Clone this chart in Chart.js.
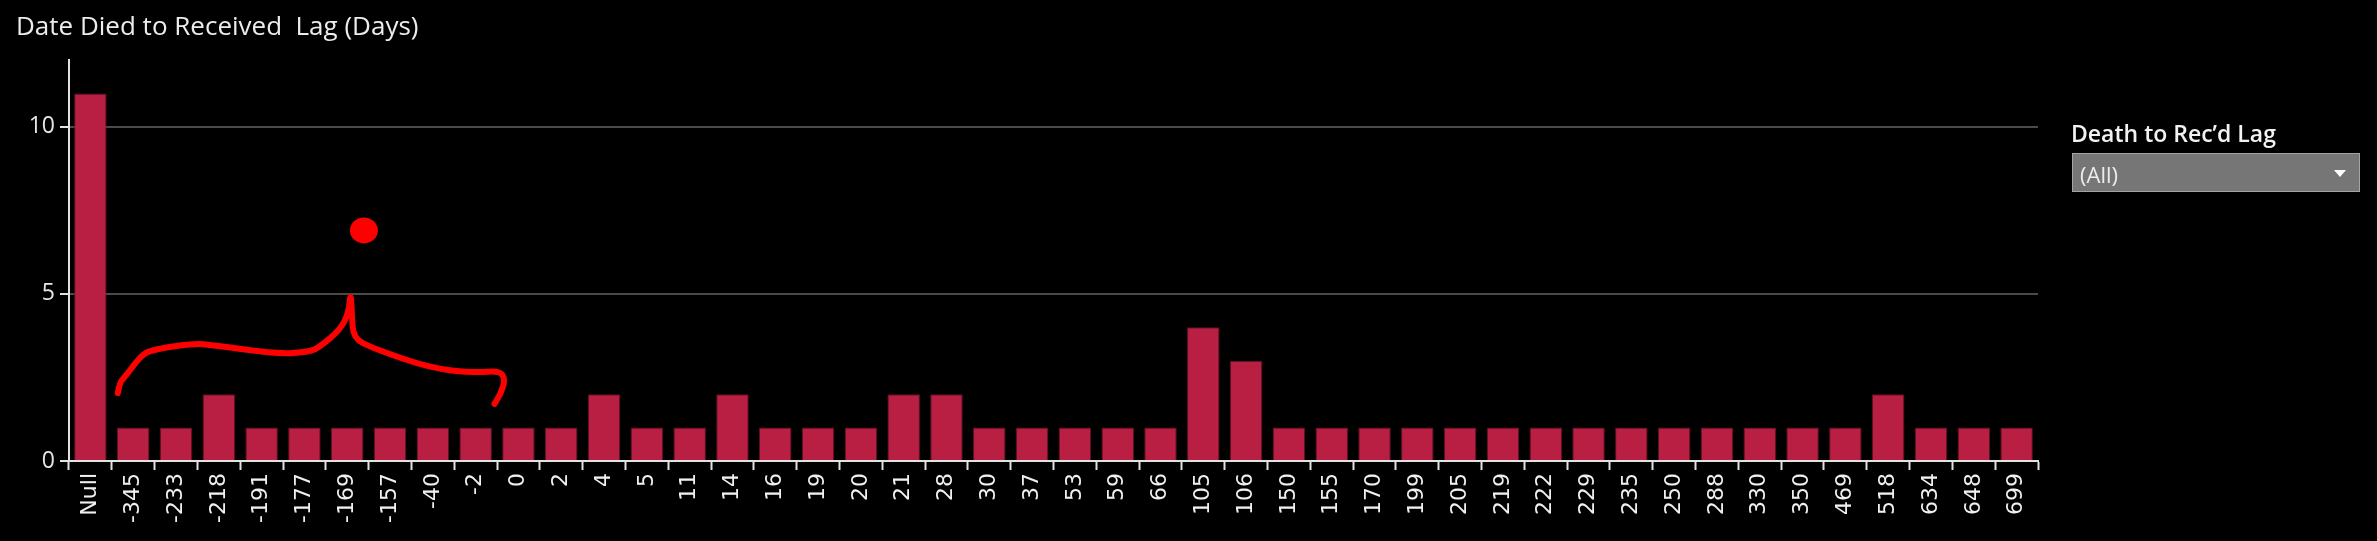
<!DOCTYPE html>
<html>
<head>
<meta charset="utf-8">
<script src="https://cdn.jsdelivr.net/npm/chart.js@4.4.0/dist/chart.umd.min.js"></script>
<style>
  html, body { margin: 0; padding: 0; background: #000; }
  #wrap { position: relative; width: 2377px; height: 541px; background: #000; overflow: hidden; }
  #chart { position: absolute; left: 0; top: 0; }
  #title {
    position: absolute; left: 16px; top: 10px;
    font: 26px "Open Sans", Lato, sans-serif; line-height: 30px;
    color: #ececec; white-space: pre;
  }
  #filterLabel {
    position: absolute; left: 2071px; top: 118px;
    font: 600 23px "Open Sans", Lato, sans-serif; line-height: 30px;
    color: #f2f2f2; white-space: pre;
  }
  #filterBox {
    position: absolute; left: 2072px; top: 153px; width: 286px; height: 37px;
    background: #767676; border: 1px solid #a3a3a3;
  }
  #filterBox span {
    position: absolute; left: 7px; top: 5px;
    font: 22px "Open Sans", Lato, sans-serif; line-height: 30px; color: #ececec;
  }
  #filterBox i {
    position: absolute; right: 13px; top: 16px; width: 0; height: 0;
    border-left: 6px solid transparent; border-right: 6px solid transparent;
    border-top: 7px solid #fff;
  }
</style>
</head>
<body>
<div id="wrap">
  <canvas id="chart" width="2377" height="541"></canvas>
  <div id="title">Date Died to Received  Lag (Days)</div>
  <div id="filterLabel">Death to Rec’d Lag</div>
  <div id="filterBox"><span>(All)</span><i></i></div>
</div>
<script>
// -------------------- DATA --------------------
const lagLabels = ["Null", "-345", "-233", "-218", "-191", "-177", "-169", "-157", "-40", "-2",
  "0", "2", "4", "5", "11", "14", "16", "19", "20", "21", "28", "30", "37", "53", "59", "66",
  "105", "106", "150", "155", "170", "199", "205", "219", "222", "229", "235", "250", "288",
  "330", "350", "469", "518", "634", "648", "699"];
const lagCounts = [11, 1, 1, 2, 1, 1, 1, 1, 1, 1,
  1, 1, 2, 1, 1, 2, 1, 1, 1, 2, 2, 1, 1, 1, 1, 1,
  4, 3, 1, 1, 1, 1, 1, 1, 1, 1, 1, 1, 1,
  1, 1, 1, 2, 1, 1, 1];
const yTicks = [0, 5, 10];
const yMax = 12;

// hand drawn red scribble, in (category index, value) units
const scribble = [[0.64, 2.03], [0.68, 2.34], [0.81, 2.52], [1.16, 3.12], [1.39, 3.32],
  [2.40, 3.52], [2.87, 3.47], [4.35, 3.20], [5.13, 3.27], [5.36, 3.42], [5.83, 3.92],
  [6.03, 4.42], [6.08, 5.07], [6.11, 4.42], [6.14, 3.67], [6.61, 3.37], [7.94, 2.78],
  [8.95, 2.64], [9.57, 2.70], [9.69, 2.43], [9.59, 2.03], [9.44, 1.71]];
const scribbleDot = [6.39, 6.90];

// -------------------- PLUGIN VẼ NÉT ĐỎ --------------------
const scribblePlugin = {
  id: "scribble",
  afterDatasetsDraw(chart) {
    const { ctx, scales: { x, y } } = chart;
    const x0 = x.getPixelForValue(0);
    const step = x.getPixelForValue(1) - x0;
    const pts = scribble.map(p => [x0 + p[0] * step, y.getPixelForValue(p[1])]);

    ctx.save();
    ctx.strokeStyle = "#ff0000";
    ctx.fillStyle = "#ff0000";
    ctx.lineWidth = 6;
    ctx.lineCap = "round";
    ctx.lineJoin = "round";
    ctx.beginPath();
    ctx.moveTo(pts[0][0], pts[0][1]);
    for (let i = 1; i < pts.length - 1; i++) {
      const mx = (pts[i][0] + pts[i + 1][0]) / 2;
      const my = (pts[i][1] + pts[i + 1][1]) / 2;
      ctx.quadraticCurveTo(pts[i][0], pts[i][1], mx, my);
    }
    const last = pts[pts.length - 1];
    ctx.lineTo(last[0], last[1]);
    ctx.stroke();

    ctx.beginPath();
    ctx.ellipse(x0 + scribbleDot[0] * step, y.getPixelForValue(scribbleDot[1]), 14, 13, 0, 0, Math.PI * 2);
    ctx.fill();
    ctx.restore();
  }
};

// -------------------- CHART --------------------
const axisColor = "#e2e2e2";

new Chart(document.getElementById("chart").getContext("2d"), {
  type: "bar",
  data: {
    labels: lagLabels,
    datasets: [{
      data: lagCounts,
      backgroundColor: "#b91f42",
      borderColor: "rgba(105, 18, 40, 0.9)",
      borderWidth: 1,
      barPercentage: 0.76,
      categoryPercentage: 1.0,
    }],
  },
  options: {
    responsive: false,
    animation: false,
    layout: { padding: { top: 60, right: 339, left: 0, bottom: 0 } },
    plugins: {
      legend: { display: false },
      tooltip: { enabled: false },
    },
    scales: {
      x: {
        offset: true,
        afterFit: s => { s.height = 80; },
        grid: {
          offset: true,
          drawOnChartArea: false,
          drawTicks: true,
          tickLength: 9,
          tickColor: axisColor,
          tickWidth: 2,
        },
        border: { color: axisColor, width: 2 },
        ticks: {
          autoSkip: false,
          maxRotation: 90,
          minRotation: 90,
          padding: 3,
          color: "#f0f0f0",
          font: { family: "'DejaVu Sans', sans-serif", size: 22 },
        },
      },
      y: {
        min: 0,
        max: yMax,
        afterFit: s => { s.width = 69; },
        afterBuildTicks: s => { s.ticks = yTicks.map(v => ({ value: v })); },
        grid: {
          color: c => (c.tick && c.tick.value === 0 ? "rgba(0,0,0,0)" : "#4a4a4a"),
          lineWidth: 2,
          tickLength: 9,
          tickColor: axisColor,
          tickWidth: 2,
        },
        border: { color: axisColor, width: 2 },
        ticks: {
          padding: 5,
          color: "#e6e6e6",
          font: { family: "'Open Sans', Lato, sans-serif", size: 23 },
        },
      },
    },
  },
  plugins: [scribblePlugin],
});
</script>
</body>
</html>
